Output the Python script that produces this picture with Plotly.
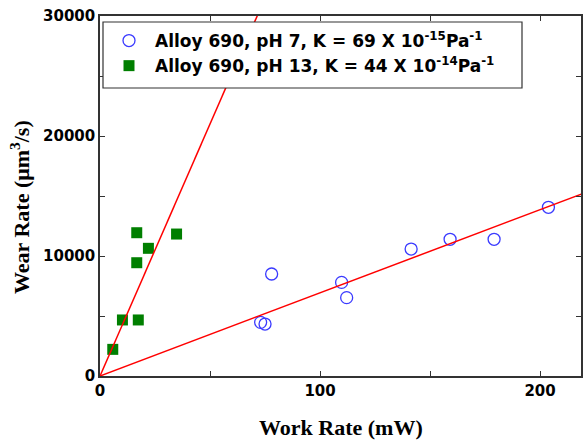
import plotly.graph_objects as go

# pH 7 data (open blue circles)
ph7_work = [73.0, 75.0, 78.0, 109.8, 112.1, 141.4, 159.1, 179.1, 203.8]
ph7_wear = [4470, 4330, 8500, 7800, 6530, 10580, 11390, 11390, 14060]

# pH 13 data (green squares)
ph13_work = [5.8, 10.2, 17.4, 16.7, 22.0, 16.7, 34.8]
ph13_wear = [2220, 4670, 4670, 9440, 10640, 11940, 11830]

# fitted slopes (um^3/s per mW)
slope_ph7 = 69.3
slope_ph13 = 420.0
fit_x = [0, 220]

fig = go.Figure()
fig.add_trace(go.Scatter(
    x=ph7_work, y=ph7_wear, mode="markers",
    name="<b>Alloy 690, pH 7, K = 69 X 10<sup>-15</sup>Pa<sup>-1</sup></b>",
    marker=dict(symbol="circle-open", size=12, color="#3a3aff", line=dict(width=1.3))))
fig.add_trace(go.Scatter(
    x=ph13_work, y=ph13_wear, mode="markers",
    name="<b>Alloy 690, pH 13, K = 44 X 10<sup>-14</sup>Pa<sup>-1</sup></b>",
    marker=dict(symbol="square", size=11, color="#007f00")))
fig.add_trace(go.Scatter(
    x=fit_x, y=[slope_ph7 * v for v in fit_x], mode="lines",
    line=dict(color="#ff0000", width=1.5), showlegend=False, hoverinfo="skip"))
fig.add_trace(go.Scatter(
    x=fit_x, y=[slope_ph13 * v for v in fit_x], mode="lines",
    line=dict(color="#ff0000", width=1.5), showlegend=False, hoverinfo="skip"))

axis_common = dict(
    showgrid=False, zeroline=False, showline=True, linecolor="#333333", linewidth=1.5,
    mirror="ticks", ticks="inside", ticklen=5, tickwidth=1.2, tickcolor="#333333",
    tickfont=dict(family="DejaVu Sans", size=15, color="black"),
    automargin=False, tickprefix="<b>", ticksuffix="</b>",
)

W, H = 583, 441
pl, pr, pt, pb = 100, 2, 16, 65
pw, ph = W - pl - pr, H - pt - pb


def px(xp):
    return (xp - pl) / pw


def py(yp):
    return (H - yp - pb) / ph


fig.update_layout(
    width=W, height=H,
    margin=dict(l=pl, r=pr, t=pt, b=pb),
    plot_bgcolor="white", paper_bgcolor="white",
    xaxis=dict(range=[0, 218.6], dtick=100, tick0=0, tickformat="d",
               minor=dict(dtick=50, ticks="inside", ticklen=5, tickcolor="#333333"),
               **axis_common),
    yaxis=dict(range=[0, 30000], dtick=10000, tick0=0, tickformat="d",
               minor=dict(dtick=5000, ticks="inside", ticklen=5, tickcolor="#333333"),
               **axis_common),
    legend=dict(x=px(103), y=py(23), xanchor="left", yanchor="top",
                bgcolor="rgba(0,0,0,0)", borderwidth=0,
                font=dict(family="DejaVu Sans", size=17, color="black"),
                itemwidth=42, tracegroupgap=4),
    showlegend=True,
    shapes=[dict(type="rect", xref="paper", yref="paper", layer="above",
                 x0=px(103), x1=px(522), y0=py(88), y1=py(22),
                 fillcolor="white", line=dict(color="#333333", width=1.2))],
    annotations=[
        dict(text="<b>Work Rate (mW)</b>", x=px(341), y=py(427),
             xref="paper", yref="paper", xanchor="center", yanchor="middle", showarrow=False,
             font=dict(family="Liberation Serif", size=22, color="black")),
        dict(text="<b>Wear Rate (μm<sup>3</sup>/s)</b>", x=px(20), y=py(207),
             xref="paper", yref="paper", xanchor="center", yanchor="middle",
             textangle=-90, showarrow=False,
             font=dict(family="Liberation Serif", size=22, color="black")),
    ],
)

fig.write_html("out.html", config={"displayModeBar": False},
               post_script="document.body.style.margin='0px';")
